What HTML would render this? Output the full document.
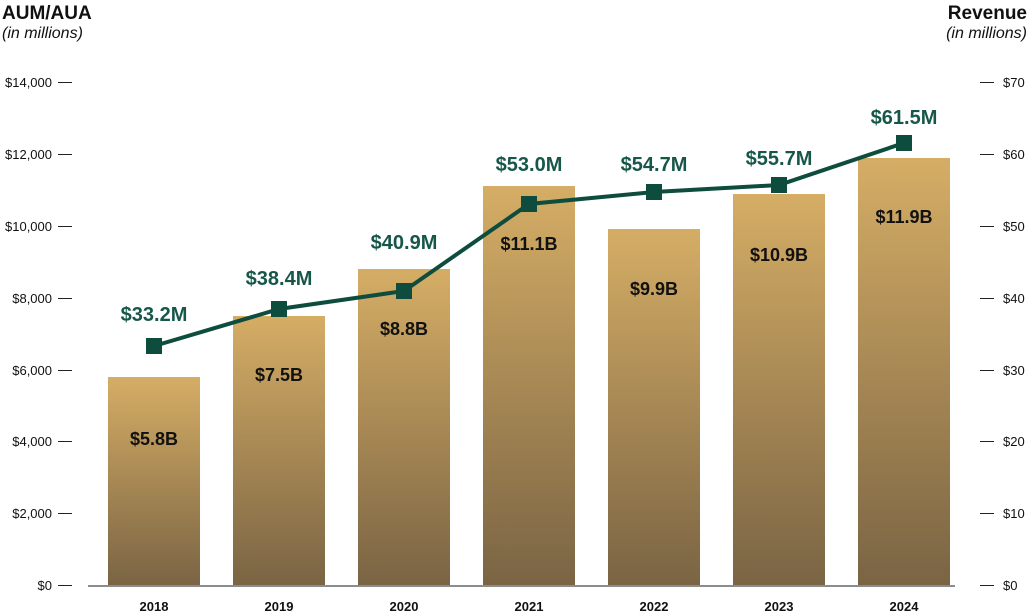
<!DOCTYPE html>
<html><head><meta charset="utf-8"><style>
body{margin:0;background:#fff}
svg{display:block;font-family:"Liberation Sans",sans-serif}
</style></head><body>
<svg width="1031" height="615" viewBox="0 0 1031 615">
<defs><linearGradient id="g" x1="0" y1="0" x2="0" y2="1">
<stop offset="0" stop-color="#d5ad65"/><stop offset="1" stop-color="#7a6444"/></linearGradient></defs>
<text x="2" y="19" font-size="19" font-weight="bold" fill="#111">AUM/AUA</text>
<text x="2" y="38" font-size="16" font-style="italic" fill="#111">(in millions)</text>
<text x="1027" y="19" font-size="19" font-weight="bold" fill="#111" text-anchor="end">Revenue</text>
<text x="1027" y="38" font-size="16" font-style="italic" fill="#111" text-anchor="end">(in millions)</text>
<g font-size="13" fill="#111">
<g text-anchor="end">
<text x="52" y="87">$14,000</text><text x="52" y="159">$12,000</text><text x="52" y="231">$10,000</text>
<text x="52" y="303">$8,000</text><text x="52" y="375">$6,000</text><text x="52" y="446">$4,000</text>
<text x="52" y="518">$2,000</text><text x="52" y="590">$0</text></g>
<text x="1003" y="87">$70</text><text x="1003" y="159">$60</text><text x="1003" y="231">$50</text>
<text x="1003" y="303">$40</text><text x="1003" y="375">$30</text><text x="1003" y="446">$20</text>
<text x="1003" y="518">$10</text><text x="1003" y="590">$0</text>
</g>
<g stroke="#222" stroke-width="1">
<path d="M58 82.5h14M58 154.5h14M58 226.5h14M58 298.5h14M58 370.5h14M58 441.5h14M58 513.5h14M58 585.5h14"/>
<path d="M980 82.5h14M980 154.5h14M980 226.5h14M980 298.5h14M980 370.5h14M980 441.5h14M980 513.5h14M980 585.5h14"/>
</g>
<g fill="url(#g)">
<rect x="108" y="377" width="92" height="208"/>
<rect x="233" y="316" width="92" height="269"/>
<rect x="358" y="269" width="92" height="316"/>
<rect x="483" y="186" width="92" height="399"/>
<rect x="608" y="229" width="92" height="356"/>
<rect x="733" y="194" width="92" height="391"/>
<rect x="858" y="158" width="92" height="427"/>
</g>
<line x1="88" y1="586" x2="955" y2="586" stroke="#666" stroke-width="1.5"/>
<g font-size="13" font-weight="bold" fill="#111" text-anchor="middle">
<text x="154" y="611">2018</text><text x="279" y="611">2019</text><text x="404" y="611">2020</text>
<text x="529" y="611">2021</text><text x="654" y="611">2022</text><text x="779" y="611">2023</text><text x="904" y="611">2024</text>
</g>
<g font-size="18" font-weight="bold" fill="#111" text-anchor="middle">
<text x="154" y="445">$5.8B</text><text x="279" y="381">$7.5B</text><text x="404" y="335">$8.8B</text>
<text x="529" y="250">$11.1B</text><text x="654" y="295">$9.9B</text><text x="779" y="261">$10.9B</text><text x="904" y="223">$11.9B</text>
</g>
<polyline points="154,346 279,309 404,291 529,204 654,192 779,185 904,143" fill="none" stroke="#0e4d3e" stroke-width="4"/>
<g fill="#0e4d3e">
<rect x="146" y="338" width="16" height="16"/><rect x="271" y="301" width="16" height="16"/>
<rect x="396" y="283" width="16" height="16"/><rect x="521" y="196" width="16" height="16"/>
<rect x="646" y="184" width="16" height="16"/><rect x="771" y="177" width="16" height="16"/>
<rect x="896" y="135" width="16" height="16"/>
</g>
<g font-size="20" font-weight="bold" fill="#16574a" text-anchor="middle">
<text x="154" y="321">$33.2M</text><text x="279" y="285">$38.4M</text><text x="404" y="249">$40.9M</text>
<text x="529" y="171">$53.0M</text><text x="654" y="171">$54.7M</text><text x="779" y="165">$55.7M</text><text x="904" y="124">$61.5M</text>
</g>
</svg>
</body></html>
